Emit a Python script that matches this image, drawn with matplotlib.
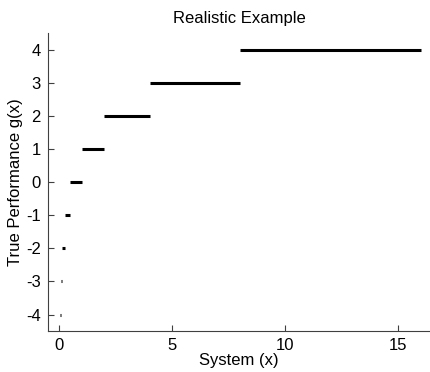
import matplotlib
matplotlib.use("Agg")
import matplotlib.pyplot as plt

# step segments: level k spans x in [2^(k-1), 2^k]
levels = [-4, -3, -2, -1, 0, 1, 2, 3, 4]
x_start = [0.03125, 0.0625, 0.125, 0.25, 0.5, 1, 2, 4, 8]
x_end = [0.0625, 0.125, 0.25, 0.5, 1, 2, 4, 8, 16]

plt.rcParams['font.family'] = ['Liberation Sans', 'DejaVu Sans']
plt.rcParams['axes.unicode_minus'] = False

fig = plt.figure(figsize=(4.31, 3.72), dpi=100)
ax = fig.add_axes([0.111, 0.110, 0.887, 0.801])

ax.hlines(levels, x_start, x_end, colors='black', linewidth=2.2)

ax.set_xlim(-0.5, 16.4)
ax.set_ylim(-4.5, 4.5)
ax.set_xticks([0, 5, 10, 15])
ax.set_yticks(levels)

for side in ['top', 'right']:
    ax.spines[side].set_visible(False)
for side in ['left', 'bottom']:
    ax.spines[side].set_color('#404040')
    ax.spines[side].set_linewidth(0.8)

ax.tick_params(direction='in', length=4, width=0.8, labelsize=12, color='#404040', pad=5)

ax.set_title('Realistic Example', fontsize=12, pad=7)
ax.set_xlabel('System (x)', fontsize=12, labelpad=0)
ax.set_ylabel('True Performance g(x)', fontsize=12, labelpad=2)

fig.savefig('out.png', dpi=100)
